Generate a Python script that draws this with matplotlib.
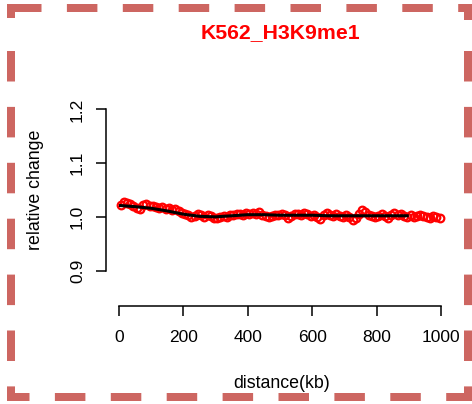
import numpy as np
import matplotlib
matplotlib.use("Agg")
import matplotlib.pyplot as plt
from matplotlib.lines import Line2D
from matplotlib.transforms import IdentityTransform

plt.rcParams['font.family'] = ['Liberation Sans', 'DejaVu Sans']

# distance bins (kb) and relative change per bin
distance = np.arange(5, 1000, 10)
rel_change = [
    1.022, 1.028, 1.025, 1.024, 1.020, 1.016, 1.014, 1.022, 1.024, 1.021,
    1.020, 1.018, 1.016, 1.019, 1.015, 1.017, 1.012, 1.015, 1.010, 1.008,
    1.005, 1.003, 1.000, 1.002, 1.005, 1.003, 1.000, 1.004, 1.001, 0.998,
    0.997, 0.999, 1.002, 1.000, 1.004, 1.003, 1.006, 1.005, 1.004, 1.007,
    1.005, 1.008, 1.006, 1.009, 1.003, 1.002, 0.999, 1.001, 1.004, 1.003,
    1.006, 1.004, 0.998, 1.002, 1.005, 1.006, 1.003, 1.007, 1.005, 1.002,
    1.004, 1.000, 0.996, 1.003, 1.008, 1.004, 1.002, 1.006, 1.001, 0.999,
    1.003, 1.000, 0.995, 0.998, 1.006, 1.012, 1.009, 1.004, 1.001, 0.999,
    1.002, 1.005, 1.001, 0.998, 1.004, 1.007, 1.003, 1.005, 1.001, 1.000,
    1.003, 0.999, 1.001, 1.004, 1.002, 1.000, 0.997, 1.001, 0.999, 0.998,
]

# smoothed trend
smooth_x = [5, 50, 100, 150, 200, 250, 300, 350, 400, 450, 500, 550,
            600, 650, 700, 750, 800, 850, 895]
smooth_y = [1.021, 1.019, 1.016, 1.011, 1.005, 1.001, 1.000, 1.002, 1.004,
            1.004, 1.003, 1.003, 1.003, 1.002, 1.002, 1.002, 1.002, 1.002, 1.002]

xticks = [0, 200, 400, 600, 800, 1000]
yticks = [0.9, 1.0, 1.1, 1.2]

W, H = 472, 404
fig = plt.figure(figsize=(W / 100, H / 100), dpi=100)
ax = fig.add_axes([106 / W, 1 - 306 / H, 348 / W, 232 / H])

ax.plot(distance, rel_change, 'o', ms=5.5, mfc='none', mec='red', mew=1.6)
ax.plot(smooth_x, smooth_y, '-', color='black', lw=2.2)

ax.set_xlim(-40, 1040)
ax.set_ylim(0.834, 1.266)
ax.set_xticks(xticks)
ax.set_yticks(yticks)
ax.set_xticklabels([str(t) for t in xticks])
ax.set_yticklabels(['%.1f' % t for t in yticks])
for s in ['top', 'right']:
    ax.spines[s].set_visible(False)
ax.spines['bottom'].set_bounds(0, 1000)
ax.spines['left'].set_bounds(0.9, 1.2)
for s in ['bottom', 'left']:
    ax.spines[s].set_linewidth(1.1)
ax.tick_params(axis='x', length=7.2, width=1.1, pad=10, labelsize=12.5)
ax.tick_params(axis='y', length=7.2, width=1.1, pad=8, labelsize=12.5,
               labelrotation=90)
for lab in ax.get_yticklabels():
    lab.set_va('center')

fig.text(280 / W, 1 - 33 / H, 'K562_H3K9me1', color='red', fontsize=15.3,
         fontweight='bold', ha='center', va='center')
fig.text(282 / W, 1 - 383 / H, 'distance(kb)', fontsize=12.8,
         ha='center', va='center')
fig.text(35 / W, 1 - 190 / H, 'relative change', fontsize=12.8,
         rotation=90, ha='center', va='center')

# dashed border around the whole figure, drawn side by side in pixels
border_col = '#CD6661'
lw_px = 8
ON, OFF = 30.5, 25.4


def side(x0, y0, x1, y1, phase=0.0, solid=False):
    ls = '-' if solid else (phase / lw_px, (ON / lw_px, OFF / lw_px))
    ln = Line2D([x0, x1], [H - y0, H - y1], transform=IdentityTransform(),
                color=border_col, lw=lw_px * 0.72, linestyle=ls,
                dash_capstyle='butt', solid_capstyle='butt')
    fig.lines.append(ln)


L, R, T, B = 11, 468, 8, 397
side(L, T, R, T)                 # top
side(L, B, R, B, phase=12)       # bottom
side(L, 51, L, B + 4)            # left
side(R, 51, R, B + 4)            # right
side(L, T - 4, L, 18, solid=True)
side(R, T - 4, R, 20, solid=True)

fig.savefig('out.png', dpi=100)
